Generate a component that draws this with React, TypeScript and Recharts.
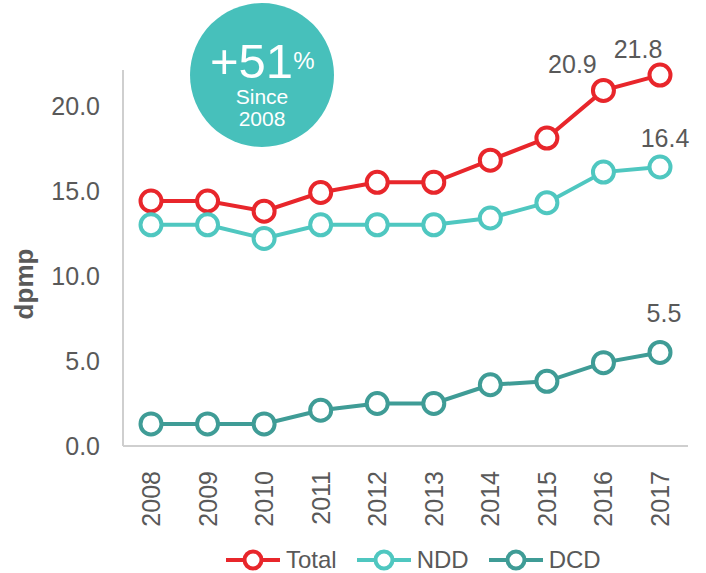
import { LineChart, Line, XAxis, YAxis, Legend, LabelList } from 'recharts';

const years = ['2008', '2009', '2010', '2011', '2012', '2013', '2014', '2015', '2016', '2017'];
const total = [14.4, 14.4, 13.8, 14.9, 15.5, 15.5, 16.8, 18.1, 20.9, 21.8];
const ndd = [13.0, 13.0, 12.2, 13.0, 13.0, 13.0, 13.4, 14.3, 16.1, 16.4];
const dcd = [1.3, 1.3, 1.3, 2.1, 2.5, 2.5, 3.6, 3.8, 4.9, 5.5];
const yTicks = [0, 5, 10, 15, 20];

// which points carry a value label
const totalLabelYears = ['2016', '2017'];
const nddLabelYears = ['2017'];
const dcdLabelYears = ['2017'];

const data = years.map((year, i) => ({ year, Total: total[i], NDD: ndd[i], DCD: dcd[i] }));

const FONT = '"Liberation Sans", Arial, sans-serif';
const TEXT = '#595959';
const RED = '#e8262b';
const NDD_C = '#4fc7c0';
const DCD_C = '#3f9c96';

const series = [
  { key: 'Total', color: RED, labelYears: totalLabelYears },
  { key: 'NDD', color: NDD_C, labelYears: nddLabelYears },
  { key: 'DCD', color: DCD_C, labelYears: dcdLabelYears },
];

// label nudges per series/year
const labelOffset: Record<string, { dx: number; dy: number }> = {
  'Total-2016': { dx: -31, dy: -17 },
  'Total-2017': { dx: -22, dy: -17 },
  'NDD-2017': { dx: 5, dy: -20 },
  'DCD-2017': { dx: 4, dy: -30 },
};

function makeLabel(key: string, shown: string[]) {
  return (props: any) => {
    const { x, y, value, index } = props;
    const yr = years[index];
    if (!shown.includes(yr)) return null;
    const off = labelOffset[`${key}-${yr}`] || { dx: 0, dy: -20 };
    return (
      <text x={x + off.dx} y={y + off.dy} textAnchor="middle" fill={TEXT} fontSize={25} fontFamily={FONT}>
        {Number(value).toFixed(1)}
      </text>
    );
  };
}

function YearTick(props: any) {
  const { x, y, payload } = props;
  return (
    <text
      x={x}
      y={y + 17}
      transform={`rotate(-90, ${x}, ${y + 17})`}
      textAnchor="end"
      dominantBaseline="central"
      fill={TEXT}
      fontSize={25}
      fontFamily={FONT}
    >
      {payload.value}
    </text>
  );
}

function YLabel(props: any) {
  const { viewBox } = props;
  const cx = viewBox.x + 24;
  const cy = viewBox.y + viewBox.height / 2 + 26;
  return (
    <text
      x={cx}
      y={cy}
      transform={`rotate(-90, ${cx}, ${cy})`}
      textAnchor="middle"
      dominantBaseline="central"
      fill={TEXT}
      fontSize={26}
      fontWeight="bold"
      fontFamily={FONT}
    >
      dpmp
    </text>
  );
}

function LegendContent() {
  return (
    <div style={{ height: 40, display: 'flex', alignItems: 'center', paddingLeft: 226, paddingTop: 14, boxSizing: 'border-box', fontFamily: FONT, fontSize: 24, color: TEXT }}>
      {series.map((s, i) => (
        <div key={s.key} style={{ display: 'flex', alignItems: 'center', marginRight: i < 2 ? 20 : 0 }}>
          <svg width={54} height={24} style={{ marginRight: 6 }}>
            <line x1={0} y1={12} x2={54} y2={12} stroke={s.color} strokeWidth={4} />
            <circle cx={27} cy={12} r={8.5} fill="#fff" stroke={s.color} strokeWidth={4} />
          </svg>
          <span>{s.key}</span>
        </div>
      ))}
    </div>
  );
}

export default function App() {
  return (
    <div style={{ position: 'absolute', left: 0, top: 0, width: 706, height: 573, background: '#fff' }}>
      <LineChart width={706} height={573} data={data} margin={{ top: 70, right: 18, bottom: 0, left: 0 }}>
        <XAxis
          dataKey="year"
          padding={{ left: 28, right: 28 }}
          axisLine={{ stroke: '#cfcfcf', strokeWidth: 2 }}
          tickLine={false}
          tick={<YearTick />}
          height={87}
          interval={0}
        />
        <YAxis
          domain={[0, 22.1]}
          ticks={yTicks}
          tickFormatter={(v: number) => v.toFixed(1)}
          width={123}
          axisLine={{ stroke: '#cfcfcf', strokeWidth: 2 }}
          tickLine={false}
          tickSize={0}
          tickMargin={23}
          tick={{ fill: TEXT, fontSize: 25, fontFamily: FONT }}
          label={<YLabel />}
        />
        <Legend verticalAlign="bottom" content={<LegendContent />} />
        {series.map((s) => (
          <Line
            key={s.key}
            dataKey={s.key}
            stroke={s.color}
            strokeWidth={4}
            dot={{ r: 10.5, fill: '#fff', stroke: s.color, strokeWidth: 4 }}
            activeDot={false}
            isAnimationActive={false}
          >
            <LabelList dataKey={s.key} content={makeLabel(s.key, s.labelYears)} />
          </Line>
        ))}
      </LineChart>
      <svg width={706} height={160} style={{ position: 'absolute', left: 0, top: 0, pointerEvents: 'none' }}>
        <circle cx={262} cy={75} r={72} fill="#47c0bb" />
        <text x={210} y={78} fill="#fff" fontSize={49} fontFamily={FONT}>
          +51
          <tspan fontSize={24} dy={-9}>%</tspan>
        </text>
        <text x={262} y={104} textAnchor="middle" fill="#fff" fontSize={21} fontFamily={FONT}>Since</text>
        <text x={262} y={126} textAnchor="middle" fill="#fff" fontSize={21} fontFamily={FONT}>2008</text>
      </svg>
    </div>
  );
}
